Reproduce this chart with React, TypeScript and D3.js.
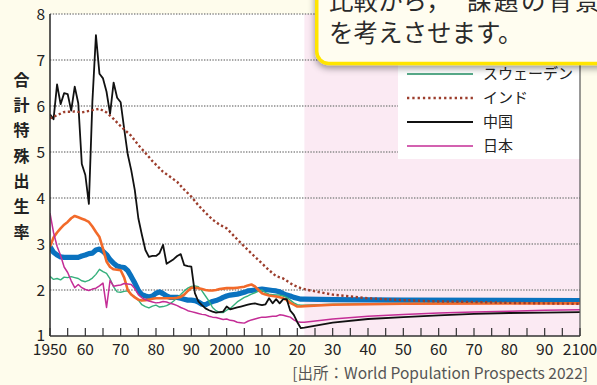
import React from "react";
import * as d3 from "d3";

type Pt = [number, number];

const xTickLabels = ["1950", "60", "70", "80", "90", "2000", "10", "20", "30", "40", "50", "60", "70", "80", "90", "2100"];
const yTicks = [1, 2, 3, 4, 5, 6, 7, 8];
const yTitle = ["合", "計", "特", "殊", "出", "生", "率"];
const projectionStart = 2022;

const france: Pt[] = [
  [1950, 2.94], [1951, 2.82], [1952, 2.76], [1953, 2.72], [1954, 2.71], [1955, 2.71], [1956, 2.71], [1957, 2.71], [1958, 2.71], [1959, 2.74],
  [1960, 2.76], [1961, 2.79], [1962, 2.8], [1963, 2.87], [1964, 2.89], [1965, 2.84], [1966, 2.77], [1967, 2.66], [1968, 2.58], [1969, 2.52],
  [1970, 2.5], [1971, 2.49], [1972, 2.42], [1973, 2.29], [1974, 2.15], [1975, 1.99], [1976, 1.9], [1977, 1.87], [1978, 1.85], [1979, 1.87],
  [1980, 1.93], [1981, 1.96], [1982, 1.92], [1983, 1.87], [1984, 1.84], [1985, 1.84], [1986, 1.84], [1987, 1.82], [1988, 1.8], [1989, 1.78],
  [1990, 1.78], [1991, 1.77], [1992, 1.74], [1993, 1.69], [1994, 1.68], [1995, 1.72], [1996, 1.75], [1997, 1.77], [1998, 1.8], [1999, 1.84],
  [2000, 1.87], [2001, 1.89], [2002, 1.9], [2003, 1.91], [2004, 1.93], [2005, 1.95], [2006, 1.98], [2007, 1.99], [2008, 2.0], [2009, 2.01],
  [2010, 2.02], [2011, 2.01], [2012, 2.0], [2013, 1.99], [2014, 1.98], [2015, 1.96], [2016, 1.92], [2017, 1.89], [2018, 1.87], [2019, 1.84],
  [2020, 1.82], [2021, 1.8], [2022, 1.8], [2030, 1.79], [2050, 1.78], [2100, 1.77],
];

const usa: Pt[] = [
  [1950, 2.94], [1951, 3.14], [1952, 3.25], [1953, 3.34], [1954, 3.42], [1955, 3.48], [1956, 3.56], [1957, 3.61], [1958, 3.58], [1959, 3.55],
  [1960, 3.52], [1961, 3.48], [1962, 3.38], [1963, 3.26], [1964, 3.15], [1965, 2.9], [1966, 2.62], [1967, 2.5], [1968, 2.45], [1969, 2.44],
  [1970, 2.43], [1971, 2.27], [1972, 2.0], [1973, 1.9], [1974, 1.84], [1975, 1.79], [1976, 1.77], [1977, 1.78], [1978, 1.79], [1979, 1.81],
  [1980, 1.82], [1981, 1.82], [1982, 1.82], [1983, 1.82], [1984, 1.82], [1985, 1.82], [1986, 1.83], [1987, 1.85], [1988, 1.9], [1989, 1.98],
  [1990, 2.05], [1991, 2.05], [1992, 2.04], [1993, 2.02], [1994, 2.0], [1995, 1.99], [1996, 1.99], [1997, 2.0], [1998, 2.02], [1999, 2.03],
  [2000, 2.04], [2001, 2.04], [2002, 2.04], [2003, 2.05], [2004, 2.06], [2005, 2.07], [2006, 2.1], [2007, 2.12], [2008, 2.08], [2009, 2.0],
  [2010, 1.93], [2011, 1.9], [2012, 1.88], [2013, 1.87], [2014, 1.86], [2015, 1.84], [2016, 1.82], [2017, 1.78], [2018, 1.72], [2019, 1.68],
  [2020, 1.64], [2021, 1.64], [2022, 1.65], [2030, 1.68], [2040, 1.69], [2050, 1.7], [2100, 1.71],
];

const sweden: Pt[] = [
  [1950, 2.3], [1951, 2.23], [1952, 2.25], [1953, 2.22], [1954, 2.28], [1955, 2.27], [1956, 2.29], [1957, 2.27], [1958, 2.25], [1959, 2.2],
  [1960, 2.18], [1961, 2.21], [1962, 2.26], [1963, 2.34], [1964, 2.45], [1965, 2.4], [1966, 2.36], [1967, 2.24], [1968, 2.07], [1969, 1.96],
  [1970, 1.95], [1971, 1.97], [1972, 1.98], [1973, 1.9], [1974, 1.85], [1975, 1.78], [1976, 1.68], [1977, 1.64], [1978, 1.61], [1979, 1.65],
  [1980, 1.67], [1981, 1.63], [1982, 1.64], [1983, 1.66], [1984, 1.7], [1985, 1.76], [1986, 1.83], [1987, 1.9], [1988, 1.98], [1989, 2.04],
  [1990, 2.08], [1991, 2.09], [1992, 2.07], [1993, 1.98], [1994, 1.87], [1995, 1.76], [1996, 1.62], [1997, 1.55], [1998, 1.51], [1999, 1.51],
  [2000, 1.56], [2001, 1.6], [2002, 1.67], [2003, 1.74], [2004, 1.79], [2005, 1.84], [2006, 1.87], [2007, 1.91], [2008, 1.94], [2009, 1.98],
  [2010, 2.0], [2011, 1.94], [2012, 1.91], [2013, 1.9], [2014, 1.89], [2015, 1.89], [2016, 1.87], [2017, 1.84], [2018, 1.78], [2019, 1.72],
  [2020, 1.68], [2021, 1.67], [2022, 1.67], [2030, 1.69], [2040, 1.7], [2060, 1.71], [2100, 1.72],
];

const india: Pt[] = [
  [1950, 5.73], [1952, 5.8], [1954, 5.87], [1957, 5.88], [1959, 5.86], [1962, 5.91], [1964, 5.94], [1966, 5.86], [1968, 5.72], [1970, 5.56],
  [1973, 5.35], [1975, 5.15], [1977, 4.98], [1979, 4.8], [1982, 4.57], [1984, 4.46], [1986, 4.35], [1988, 4.18], [1990, 4.03], [1992, 3.84],
  [1994, 3.68], [1996, 3.53], [1998, 3.42], [2000, 3.34], [2003, 3.1], [2006, 2.87], [2009, 2.65], [2012, 2.43], [2014, 2.3], [2016, 2.25],
  [2019, 2.1], [2021, 2.04], [2023, 2.0], [2030, 1.9], [2040, 1.82], [2050, 1.78], [2060, 1.75], [2070, 1.74], [2080, 1.72], [2090, 1.71], [2100, 1.7],
];

const china: Pt[] = [
  [1950, 5.82], [1951, 5.71], [1952, 6.47], [1953, 6.04], [1954, 6.28], [1955, 6.26], [1956, 5.9], [1957, 6.42], [1958, 6.06], [1959, 4.74],
  [1960, 4.5], [1961, 3.87], [1962, 6.1], [1963, 7.54], [1964, 6.7], [1965, 6.6], [1966, 6.31], [1967, 5.83], [1968, 6.51], [1969, 6.18],
  [1970, 6.08], [1971, 5.5], [1972, 4.95], [1973, 4.6], [1974, 4.17], [1975, 3.56], [1976, 3.2], [1977, 2.87], [1978, 2.72], [1979, 2.74],
  [1980, 2.74], [1981, 2.8], [1982, 2.98], [1983, 2.57], [1984, 2.62], [1985, 2.67], [1986, 2.74], [1987, 2.78], [1988, 2.54], [1989, 2.52],
  [1990, 2.51], [1991, 1.93], [1992, 1.75], [1993, 1.67], [1994, 1.6], [1995, 1.56], [1996, 1.53], [1997, 1.51], [1998, 1.52], [1999, 1.53],
  [2000, 1.64], [2001, 1.58], [2002, 1.6], [2003, 1.62], [2004, 1.64], [2005, 1.66], [2006, 1.68], [2007, 1.7], [2008, 1.71], [2009, 1.69],
  [2010, 1.67], [2011, 1.69], [2012, 1.82], [2013, 1.71], [2014, 1.8], [2015, 1.71], [2016, 1.8], [2017, 1.8], [2018, 1.55], [2019, 1.46],
  [2020, 1.3], [2021, 1.17], [2022, 1.18], [2030, 1.29], [2040, 1.37], [2050, 1.41], [2060, 1.45], [2070, 1.48], [2080, 1.5], [2090, 1.51], [2100, 1.52],
];

const japan: Pt[] = [
  [1950, 3.67], [1951, 3.25], [1952, 2.95], [1953, 2.75], [1954, 2.5], [1955, 2.38], [1956, 2.2], [1957, 2.05], [1958, 2.12], [1959, 2.05],
  [1960, 2.01], [1961, 1.99], [1962, 2.02], [1963, 2.04], [1964, 2.09], [1965, 2.15], [1966, 1.62], [1967, 2.21], [1968, 2.08], [1969, 2.1],
  [1970, 2.11], [1971, 2.14], [1972, 2.13], [1973, 2.12], [1974, 2.03], [1975, 1.9], [1976, 1.83], [1977, 1.79], [1978, 1.76], [1979, 1.74],
  [1980, 1.72], [1981, 1.73], [1982, 1.75], [1983, 1.74], [1984, 1.71], [1985, 1.69], [1986, 1.66], [1987, 1.62], [1988, 1.59], [1989, 1.55],
  [1990, 1.53], [1991, 1.51], [1992, 1.49], [1993, 1.47], [1994, 1.46], [1995, 1.43], [1996, 1.41], [1997, 1.4], [1998, 1.38], [1999, 1.36],
  [2000, 1.37], [2001, 1.34], [2002, 1.33], [2003, 1.3], [2004, 1.29], [2005, 1.28], [2006, 1.32], [2007, 1.35], [2008, 1.37], [2009, 1.39],
  [2010, 1.41], [2011, 1.41], [2012, 1.42], [2013, 1.43], [2014, 1.43], [2015, 1.46], [2016, 1.45], [2017, 1.43], [2018, 1.41], [2019, 1.35],
  [2020, 1.31], [2021, 1.3], [2022, 1.3], [2030, 1.37], [2040, 1.43], [2050, 1.47], [2060, 1.5], [2070, 1.52], [2080, 1.54], [2090, 1.56], [2100, 1.57],
];

const legendNames = ["スウェーデン", "インド", "中国", "日本"];
const calloutLine1a = "比較から，";
const calloutLine1b = "課題の背景";
const calloutLine2 = "を考えさせます。";
const sourceText = "[出所：World Population Prospects 2022]";

const W = 597;
const H = 385;
const FONT = "'Noto Sans CJK JP', 'Noto Sans', sans-serif";

export default function App() {
  const x = d3.scaleLinear().domain([1950, 2100]).range([50, 580]);
  const y = d3.scaleLinear().domain([1, 8]).range([336, 14]);
  const line = d3
    .line<Pt>()
    .x((d) => x(d[0]))
    .y((d) => y(d[1]));

  const tickYears = d3.range(1950, 2101, 5);
  const labelYears = d3.range(1950, 2101, 10);

  const series = [
    { data: france, color: "#0a72bf", width: 5.2, dash: undefined as string | undefined },
    { data: sweden, color: "#35b07c", width: 1.4, dash: undefined },
    { data: usa, color: "#f26a2a", width: 2.6, dash: undefined },
    { data: japan, color: "#c42d96", width: 1.5, dash: undefined },
    { data: china, color: "#111111", width: 1.8, dash: undefined },
    { data: india, color: "#9c3d2c", width: 2.4, dash: "2.3,2.5" },
  ];

  const legend = [
    { name: legendNames[0], color: "#1f8f63", width: 1.4, dash: undefined as string | undefined },
    { name: legendNames[1], color: "#9c3d2c", width: 2.4, dash: "2.3,3" },
    { name: legendNames[2], color: "#111111", width: 1.8, dash: undefined },
    { name: legendNames[3], color: "#c42d96", width: 1.5, dash: undefined },
  ];

  return (
    <svg
      width={W}
      height={H}
      style={{ position: "absolute", left: 0, top: 0, display: "block" }}
      fontFamily={FONT}
    >
      <defs>
        <filter id="shadow" x="-20%" y="-20%" width="140%" height="160%">
          <feDropShadow dx="0" dy="3" stdDeviation="3.5" floodColor="#000" floodOpacity="0.4" />
        </filter>
        <clipPath id="plotClip">
          <rect x={50} y={14} width={530} height={322} />
        </clipPath>
      </defs>
      <rect x={0} y={0} width={W} height={H} fill="#fefcec" />
      {/* plot background */}
      <rect x={x(1950)} y={y(8)} width={x(2100) - x(1950)} height={y(1) - y(8)} fill="#ffffff" />
      <rect
        x={x(projectionStart)}
        y={y(8)}
        width={x(2100) - x(projectionStart)}
        height={y(1) - y(8)}
        fill="#fbeaf3"
      />
      {/* grid */}
      {yTicks
        .filter((t) => t > 1)
        .map((t) => (
          <line
            key={t}
            x1={x(1950)}
            x2={x(2100)}
            y1={y(t)}
            y2={y(t)}
            stroke="#8a8a8a"
            strokeWidth={1.3}
            strokeDasharray="1.4,1.4"
          />
        ))}
      {/* legend box */}
      <rect x={398} y={0} width={x(2100) - 398} height={159} fill="#ffffff" />
      {/* series */}
      <g clipPath="url(#plotClip)">
        {series.map((s, i) => (
          <path
            key={i}
            d={line(s.data) || ""}
            fill="none"
            stroke={s.color}
            strokeWidth={s.width}
            strokeDasharray={s.dash}
            strokeLinejoin="round"
          />
        ))}
      </g>
      {/* axes */}
      <line x1={x(1950)} x2={x(1950)} y1={y(8)} y2={y(1)} stroke="#333" strokeWidth={1.6} />
      <line x1={x(2100)} x2={x(2100)} y1={y(8)} y2={y(1)} stroke="#555" strokeWidth={1.2} />
      <line x1={x(1950)} x2={x(2100)} y1={y(1)} y2={y(1)} stroke="#333" strokeWidth={1.6} />
      {tickYears.map((t) => (
        <line key={t} x1={x(t)} x2={x(t)} y1={y(1)} y2={y(1) - 8} stroke="#333" strokeWidth={1.2} />
      ))}
      {labelYears.map((t, i) => (
        <text key={t} x={x(t)} y={354.5} textAnchor="middle" fontSize={15.5} fill="#222">
          {xTickLabels[i]}
        </text>
      ))}
      {yTicks.map((t) => (
        <text key={t} x={45} y={y(t)} dy={t === 1 ? "0.3em" : "0.36em"} textAnchor="end" fontSize={15.5} fill="#222">
          {t}
        </text>
      ))}
      {yTitle.map((c, i) => (
        <text key={i} x={21.5} y={80 + i * 25.3} dy="0.36em" textAnchor="middle" fontSize={16} fontWeight="bold" fill="#222">
          {c}
        </text>
      ))}
      {/* legend */}
      {legend.map((l, i) => (
        <g key={i}>
          <line
            x1={407}
            x2={473}
            y1={74 + i * 24}
            y2={74 + i * 24}
            stroke={l.color}
            strokeWidth={l.width}
            strokeDasharray={l.dash}
          />
          <text x={483} y={74 + i * 24} dy="0.36em" fontSize={15} fill="#222">
            {l.name}
          </text>
        </g>
      ))}
      {/* source */}
      <text x={588} y={378.5} textAnchor="end" fontSize={15.5} fill="#555">
        {sourceText}
      </text>
      {/* callout */}
      <rect
        x={316.75}
        y={-30}
        width={330}
        height={93.5}
        rx={12}
        fill="#fffdf0"
        stroke="#ffe500"
        strokeWidth={3.5}
        filter="url(#shadow)"
      />
      <text y={10} fontSize={24.5} fill="#2a2a2a">
        <tspan x={329}>{calloutLine1a}</tspan>
        <tspan x={467} letterSpacing={2.5}>{calloutLine1b}</tspan>
      </text>
      <text x={329} y={42} fontSize={24.5} fill="#2a2a2a">
        {calloutLine2}
      </text>
    </svg>
  );
}
